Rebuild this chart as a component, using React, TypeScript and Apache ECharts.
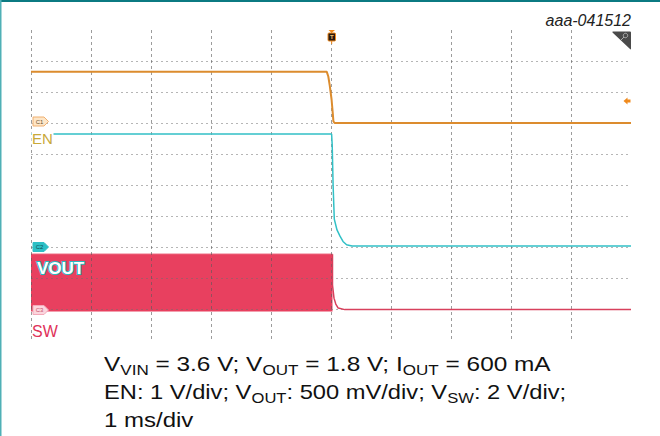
import React, { useEffect, useRef } from 'react';
import * as echarts from 'echarts';

// time in divisions (1 ms/div), amplitude in screen divisions
const enData: [number, number][] = [
  [0, 8.65], [4.93, 8.65], [4.955, 8.5], [4.98, 8.2], [5.01, 7.75], [5.03, 7.3], [5.04, 7.05], [5.06, 7.0], [10, 7.0],
];
const voutData: [number, number][] = [
  [0, 6.645], [5.01, 6.645], [5.02, 6.3], [5.035, 5.0], [5.055, 3.9], [5.1, 3.55], [5.15, 3.35], [5.2, 3.18], [5.26, 3.07], [5.35, 3.03], [10, 3.03],
];
const swBandTop: [number, number][] = [[0, 2.77], [5.025, 2.77]];
const swBandBottom = 0.92;
const swTail: [number, number][] = [
  [5.025, 2.77], [5.025, 1.77], [5.05, 1.35], [5.08, 1.16], [5.12, 1.03], [5.23, 0.98], [10, 0.98],
];

const FONT = 'Liberation Sans, Arial, sans-serif';
const RED = '#e8405f';
const CYAN = '#32c0c6';
const ORANGE = '#dc8c2e';

echarts.graphic.registerShape(
  'zoomTri',
  (echarts.graphic as any).extendPath('M1 0 L18 0 Q19 0 19 1 L19 17 Q19 18.5 18 17.5 L0.5 1 Q0 0 1 0 Z', {})
);

function tag(cy: number, fill: string, stroke: string, label: string, color: string) {
  return [
    {
      type: 'polygon', z: 20,
      shape: { points: [[33, cy - 4.5], [44, cy - 4.5], [48.5, cy], [44, cy + 4.5], [33, cy + 4.5]] },
      style: { fill, stroke, lineWidth: 1 },
    },
    {
      type: 'text', z: 21, x: 39.5, y: cy,
      style: { text: label, fontSize: 6, fill: color, align: 'center', verticalAlign: 'middle', fontFamily: FONT },
    },
  ];
}

const mainStyle = { fontSize: 20, fontFamily: FONT, fill: '#111', verticalAlign: 'bottom', padding: [0, 0, 3, 0] };
const subStyle = { fontSize: 14, fontFamily: FONT, fill: '#111', verticalAlign: 'bottom' };

export default function App() {
  const ref = useRef<HTMLDivElement>(null);
  useEffect(() => {
    const chart = echarts.init(ref.current!, undefined, { renderer: 'svg' });
    chart.setOption({
      animation: false,
      backgroundColor: '#fff',
      grid: { left: 31, top: 30, width: 600, height: 310 },
      xAxis: {
        type: 'value', min: 0, max: 10, interval: 1, z: 2,
        axisLine: { show: false }, axisTick: { show: false }, axisLabel: { show: false },
        splitLine: { show: true, showMaxLine: false, lineStyle: { color: 'rgba(90,90,90,0.6)', type: [3, 3], width: 1 } },
      },
      yAxis: {
        type: 'value', min: 0, max: 10, interval: 1, z: 2,
        axisLine: { show: false }, axisTick: { show: false }, axisLabel: { show: false },
        splitLine: { show: true, showMinLine: false, showMaxLine: false, lineStyle: { color: 'rgba(110,110,110,0.5)', type: [2, 3], width: 1 } },
      },
      series: [
        {
          type: 'line', data: swBandTop, z: 1, symbol: 'none', silent: true,
          lineStyle: { color: RED, width: 1 },
          areaStyle: { color: RED, opacity: 1, origin: swBandBottom },
        },
        { type: 'line', data: swTail, z: 3, symbol: 'none', lineStyle: { color: '#d8405c', width: 1.5 } },
        { type: 'line', data: voutData, z: 3, symbol: 'none', lineStyle: { color: CYAN, width: 1.5 } },
        { type: 'line', data: enData, z: 3, symbol: 'none', lineStyle: { color: ORANGE, width: 2 } },
      ],
      graphic: [
        { type: 'rect', z: 30, shape: { x: 0, y: 0, width: 660, height: 2 }, style: { fill: '#0b7a82' } },
        { type: 'rect', z: 30, shape: { x: 0, y: 0, width: 1.5, height: 436 }, style: { fill: '#4fb0b6' } },
        {
          type: 'text', z: 20, x: 631, y: 20,
          style: { text: 'aaa-041512', fontSize: 16, fontStyle: 'italic', fill: '#222', align: 'right', verticalAlign: 'middle', fontFamily: FONT },
        },
        // zoom icon
        { type: 'zoomTri', z: 25, x: 612, y: 31.5, scaleX: 1, scaleY: 1, style: { fill: '#4a4a4a' } },
        { type: 'circle', z: 26, shape: { cx: 625.5, cy: 35.5, r: 2.2 }, style: { fill: 'none', stroke: '#b8b8b8', lineWidth: 0.9 } },
        { type: 'line', z: 26, shape: { x1: 624, y1: 37, x2: 621, y2: 40 }, style: { stroke: '#b8b8b8', lineWidth: 0.9 } },
        // trigger marker
        { type: 'polygon', z: 20, shape: { points: [[328.5, 30], [335, 30], [331.7, 33]] }, style: { fill: '#f08a1c' } },
        { type: 'line', z: 20, shape: { x1: 331.7, y1: 41, x2: 331.7, y2: 44 }, style: { stroke: '#f08a1c', lineWidth: 1 } },
        { type: 'rect', z: 20, shape: { x: 328, y: 33, width: 7.5, height: 8, r: 1 }, style: { fill: '#2a1a10', stroke: '#f08a1c', lineWidth: 1 } },
        { type: 'text', z: 21, x: 331.8, y: 37.3, style: { text: 'T', fontSize: 6, fontWeight: 'bold', fill: '#f5c070', align: 'center', verticalAlign: 'middle', fontFamily: FONT } },
        // trigger level arrow
        { type: 'polygon', z: 20, shape: { points: [[623.5, 101], [627.5, 97.5], [627.5, 104.5]] }, style: { fill: '#f08a1c' } },
        { type: 'rect', z: 20, shape: { x: 627, y: 99.5, width: 3.5, height: 3 }, style: { fill: '#f08a1c' } },
        // channel tags and labels
        ...tag(121.5, '#fde6c8', '#f0b070', 'C1', '#6a5030'),
        { type: 'rect', z: 19, shape: { x: 31.5, y: 131, width: 22, height: 14 }, style: { fill: '#fff' } },
        { type: 'text', z: 20, x: 32, y: 138.5, style: { text: 'EN', fontSize: 15, fill: '#c9a93a', verticalAlign: 'middle', fontFamily: FONT } },
        ...tag(247, '#2cbfc5', '#2cbfc5', 'C2', '#0d4f55'),
        {
          type: 'text', z: 20, x: 37, y: 268,
          style: { text: 'VOUT', fontSize: 17, fontWeight: 'bold', fill: '#fff', stroke: '#2ab8c0', lineWidth: 2, verticalAlign: 'middle', fontFamily: FONT },
        },
        ...tag(310, '#fbd5dd', '#f3a9b9', 'C3', '#c8506a'),
        { type: 'text', z: 20, x: 32, y: 331, style: { text: 'SW', fontSize: 16, fill: '#e0325a', verticalAlign: 'middle', fontFamily: FONT } },
        // caption
        {
          type: 'text', z: 20, x: 104, y: 377, scaleX: 1.22,
          style: {
            text: '{m|V}{s|VIN}{m| = 3.6 V; V}{s|OUT}{m| = 1.8 V; I}{s|OUT}{m| = 600 mA}',
            verticalAlign: 'bottom',
            rich: { m: mainStyle, s: subStyle },
          },
        },
        {
          type: 'text', z: 20, x: 104, y: 405, scaleX: 1.185,
          style: {
            text: '{m|EN: 1 V/div; V}{s|OUT}{m|: 500 mV/div; V}{s|SW}{m|: 2 V/div;}',
            verticalAlign: 'bottom',
            rich: { m: mainStyle, s: subStyle },
          },
        },
        {
          type: 'text', z: 20, x: 104, y: 433, scaleX: 1.2,
          style: {
            text: '{m|1 ms/div}',
            verticalAlign: 'bottom',
            rich: { m: mainStyle },
          },
        },
      ],
    });
    return () => chart.dispose();
  }, []);
  return <div ref={ref} style={{ position: 'fixed', left: 0, top: 0, width: 660, height: 436, background: '#fff' }} />;
}
